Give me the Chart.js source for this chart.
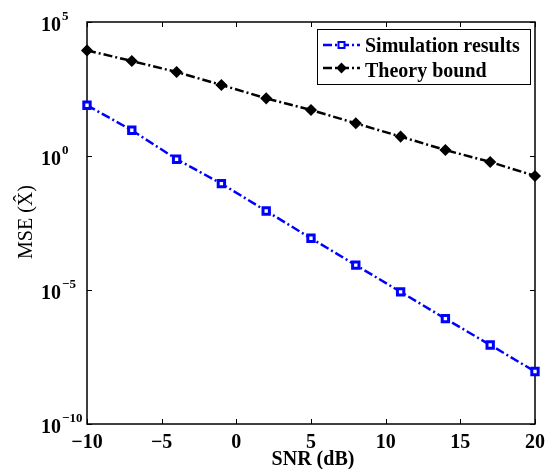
<!DOCTYPE html>
<html>
<head>
<meta charset="utf-8">
<script src="https://cdn.jsdelivr.net/npm/chart.js@4.4.1/dist/chart.umd.min.js"></script>
<style>
  html, body { margin: 0; padding: 0; background: #fff; }
  #wrap { width: 554px; height: 469px; position: relative; }
</style>
</head>
<body>
<div id="wrap"><canvas id="chart"></canvas></div>
<script>
// values (log scale)
const snrDb = [-10, -7, -4, -1, 2, 5, 8, 11, 14, 17, 20];
const simulationMse = [78, 9.1, 0.76, 0.093, 0.0089, 0.00085, 8.5e-5, 8.5e-6, 8.5e-7, 8.9e-8, 9.1e-9];
const theoryMse = [8700, 3500, 1360, 447, 142, 52, 16.6, 5.3, 1.67, 0.6, 0.18];
const seriesLabels = ['Simulation results', 'Theory bound'];
const xTicks = [-10, -5, 0, 5, 10, 15, 20];
const yTicks = [1e-10, 1e-5, 1e0, 1e5];
const yTickExp = ['\u221210', '\u22125', '0', '5'];

const serif = '"Liberation Serif", "Times New Roman", serif';
const dashDot = [9, 3, 2, 3];

function fmtMinus(v) {
  return v < 0 ? '\u2212' + Math.abs(v) : String(v);
}

// frame, inward ticks, labels and legend drawn matlab style
const framePlugin = {
  id: 'frame',
  beforeDatasetsDraw(chart) {
    const { ctx, chartArea: a, scales } = chart;
    ctx.save();
    ctx.strokeStyle = '#000';
    ctx.lineWidth = 1.5;
    ctx.strokeRect(a.left, a.top, a.right - a.left, a.bottom - a.top);
    ctx.lineWidth = 1;
    ctx.beginPath();
    xTicks.forEach(v => {
      const x = Math.round(scales.x.getPixelForValue(v)) + 0.5;
      ctx.moveTo(x, a.bottom); ctx.lineTo(x, a.bottom - 5);
      ctx.moveTo(x, a.top); ctx.lineTo(x, a.top + 5);
    });
    yTicks.forEach(v => {
      const y = Math.round(scales.y.getPixelForValue(v)) + 0.5;
      ctx.moveTo(a.left, y); ctx.lineTo(a.left + 5, y);
      ctx.moveTo(a.right, y); ctx.lineTo(a.right - 5, y);
    });
    ctx.stroke();
    ctx.restore();
  },
  afterDraw(chart) {
    const { ctx, chartArea: a, scales } = chart;
    ctx.save();
    ctx.fillStyle = '#000';
    ctx.textBaseline = 'alphabetic';

    // x tick labels
    ctx.font = 'bold 20px ' + serif;
    ctx.textAlign = 'center';
    xTicks.forEach(v => {
      ctx.fillText(fmtMinus(v), scales.x.getPixelForValue(v), 448);
    });

    // y tick labels 10^n
    yTicks.forEach((v, i) => {
      const y = scales.y.getPixelForValue(v);
      ctx.font = 'bold 20px ' + serif;
      ctx.textAlign = 'right';
      ctx.fillText('10', 61, y + 9);
      ctx.font = 'bold 13px ' + serif;
      ctx.textAlign = 'left';
      ctx.fillText(yTickExp[i], 62, y - 2);
    });

    // axis titles
    ctx.font = 'bold 20px ' + serif;
    ctx.textAlign = 'center';
    ctx.fillText('SNR (dB)', 313, 465);
    ctx.save();
    ctx.translate(32, 222);
    ctx.rotate(-Math.PI / 2);
    ctx.font = '20px ' + serif;
    ctx.fillText('MSE (X\u0302)', 0, 0);
    ctx.restore();

    // legend box
    const bx = 317, by = 29, bw = 213, bh = 55;
    ctx.fillStyle = '#fff';
    ctx.fillRect(bx, by, bw, bh);
    ctx.strokeStyle = '#000';
    ctx.lineWidth = 1;
    ctx.strokeRect(bx + 0.5, by + 0.5, bw, bh);
    chart.data.datasets.forEach((ds, i) => {
      const ly = [45, 68][i];
      ctx.strokeStyle = ds.borderColor;
      ctx.lineWidth = 2.5;
      ctx.setLineDash(dashDot);
      ctx.beginPath();
      ctx.moveTo(323, ly); ctx.lineTo(360, ly);
      ctx.stroke();
      ctx.setLineDash([]);
      ctx.fillStyle = ds.pointBackgroundColor;
      ctx.strokeStyle = ds.borderColor;
      ctx.lineWidth = 2;
      ctx.beginPath();
      if (ds.pointStyle === 'rect') {
        ctx.rect(338.5, ly - 3, 6, 6);
      } else {
        ctx.moveTo(341.5, ly - 4); ctx.lineTo(345.5, ly);
        ctx.lineTo(341.5, ly + 4); ctx.lineTo(337.5, ly); ctx.closePath();
      }
      ctx.fill(); ctx.stroke();
      ctx.fillStyle = '#000';
      ctx.font = 'bold 20px ' + serif;
      ctx.textAlign = 'left';
      ctx.fillText(ds.label, 365, [52, 77][i]);
    });
    ctx.restore();
  }
};

new Chart(document.getElementById('chart'), {
  type: 'line',
  data: {
    datasets: [
      {
        label: seriesLabels[0],
        data: snrDb.map((x, i) => ({ x, y: simulationMse[i] })),
        borderColor: '#0000ff',
        borderWidth: 2.5,
        borderDash: dashDot,
        pointStyle: 'rect',
        pointRadius: 4.5,
        pointBorderWidth: 3,
        pointBackgroundColor: '#ffffff',
        pointBorderColor: '#0000ff',
        clip: false
      },
      {
        label: seriesLabels[1],
        data: snrDb.map((x, i) => ({ x, y: theoryMse[i] })),
        borderColor: '#000000',
        borderWidth: 2.5,
        borderDash: dashDot,
        pointStyle: 'rectRot',
        pointRadius: 5,
        pointBorderWidth: 1.5,
        pointBackgroundColor: '#000000',
        pointBorderColor: '#000000',
        clip: false
      }
    ]
  },
  options: {
    responsive: true,
    maintainAspectRatio: false,
    animation: false,
    layout: { padding: { top: 22, right: 19, left: 0, bottom: 0 } },
    plugins: {
      legend: { display: false },
      tooltip: { enabled: false }
    },
    scales: {
      x: {
        type: 'linear',
        min: -10,
        max: 20,
        grid: { display: false },
        border: { display: false },
        ticks: { display: false },
        afterFit(scale) { scale.height = 45; }
      },
      y: {
        type: 'logarithmic',
        min: 1e-10,
        max: 1e5,
        grid: { display: false },
        border: { display: false },
        ticks: { display: false },
        afterBuildTicks(scale) { scale.ticks = yTicks.map(v => ({ value: v })); },
        afterFit(scale) { scale.width = 87; }
      }
    }
  },
  plugins: [framePlugin]
});
</script>
</body>
</html>
